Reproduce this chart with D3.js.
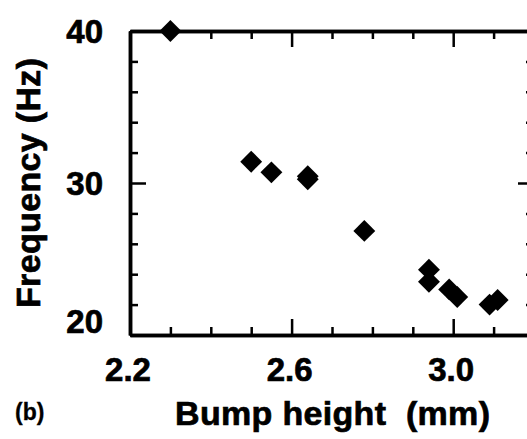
<!DOCTYPE html>
<html>
<head>
<meta charset="utf-8">
<script src="https://cdn.jsdelivr.net/npm/d3@7"></script>
<style>
  body { margin: 0; background: #fff; }
  svg { display: block; }
  .lbl { font-family: "Liberation Sans", Arial, sans-serif; font-weight: bold; fill: #000; stroke: #000; stroke-width: 0.7px; }
</style>
</head>
<body>
<script>
// values
const bumpHeight = [2.30, 2.50, 2.55, 2.64, 2.64, 2.78, 2.94, 2.94, 2.99, 3.01, 3.09, 3.11];
const frequency  = [40.0, 31.4, 30.7, 30.45, 30.25, 26.85, 24.3, 23.5, 23.0, 22.5, 22.0, 22.3];

const xMajor = [2.2, 2.6, 3.0];
const xMinor = [2.3, 2.4, 2.5, 2.7, 2.8, 2.9, 3.1];
const yMajor = [20, 30, 40];
const yMinor = [22, 24, 26, 28, 32, 34, 36, 38];

const width = 527, height = 439;

const svg = d3.select("body").append("svg")
    .attr("width", width)
    .attr("height", height);

const x = d3.scaleLinear().domain([2.2, 3.2]).range([130, 534]);
const y = d3.scaleLinear().domain([20, 40]).range([335, 31]);

// frame: axes on all four sides, ticks pointing inward
function frame(axisFn, pos, values, len) {
    svg.append("g")
        .attr("transform", pos)
        .call(axisFn.tickValues(values).tickSize(-len).tickSizeOuter(0).tickFormat(""))
        .call(g => g.selectAll(".tick line").attr("stroke", "#000").attr("stroke-width", 2.5))
        .call(g => g.select(".domain").attr("stroke", "#000").attr("stroke-width", 3.5));
}

frame(d3.axisBottom(x), "translate(0," + y(20) + ")", xMajor, 16);
frame(d3.axisBottom(x), "translate(0," + y(20) + ")", xMinor, 8);
frame(d3.axisTop(x), "translate(0," + y(40) + ")", xMajor, 16);
frame(d3.axisTop(x), "translate(0," + y(40) + ")", xMinor, 8);
frame(d3.axisLeft(y), "translate(" + x(2.2) + ",0)", yMajor, 16);
frame(d3.axisLeft(y), "translate(" + x(2.2) + ",0)", yMinor, 8);
frame(d3.axisRight(y), "translate(" + x(3.2) + ",0)", yMajor, 16);
frame(d3.axisRight(y), "translate(" + x(3.2) + ",0)", yMinor, 8);

// tick labels
svg.selectAll(".xlab")
    .data(xMajor)
    .enter().append("text")
    .attr("class", "lbl")
    .attr("x", d => x(d) - 2)
    .attr("y", 381)
    .attr("text-anchor", "middle")
    .style("font-size", "33px")
    .text(d => d.toFixed(1));

svg.selectAll(".ylab")
    .data(yMajor)
    .enter().append("text")
    .attr("class", "lbl")
    .attr("x", 103)
    .attr("y", d => d === 20 ? y(d) - 2 : y(d) + 12)
    .attr("text-anchor", "end")
    .style("font-size", "33px")
    .text(d => d);

// axis titles
svg.append("text")
    .attr("class", "lbl")
    .attr("x", 175)
    .attr("y", 425)
    .attr("textLength", 315)
    .attr("lengthAdjust", "spacing")
    .style("font-size", "34px")
    .style("white-space", "pre")
    .text("Bump height  (mm)");

svg.append("text")
    .attr("class", "lbl")
    .attr("transform", "translate(40,183) rotate(-90)")
    .attr("text-anchor", "middle")
    .attr("textLength", 250)
    .attr("lengthAdjust", "spacing")
    .style("font-size", "34px")
    .text("Frequency (Hz)");

svg.append("text")
    .attr("class", "lbl")
    .attr("x", 15)
    .attr("y", 420)
    .style("font-size", "23px")
    .style("stroke-width", "0.3px")
    .text("(b)");

// data: filled diamonds
const diamond = d3.symbol().type(d3.symbolSquare).size(240);
svg.selectAll(".pt")
    .data(bumpHeight)
    .enter().append("path")
    .attr("class", "pt")
    .attr("d", diamond)
    .attr("transform", (d, i) => "translate(" + x(d) + "," + y(frequency[i]) + ") rotate(45)")
    .style("fill", "#000");
</script>
</body>
</html>
